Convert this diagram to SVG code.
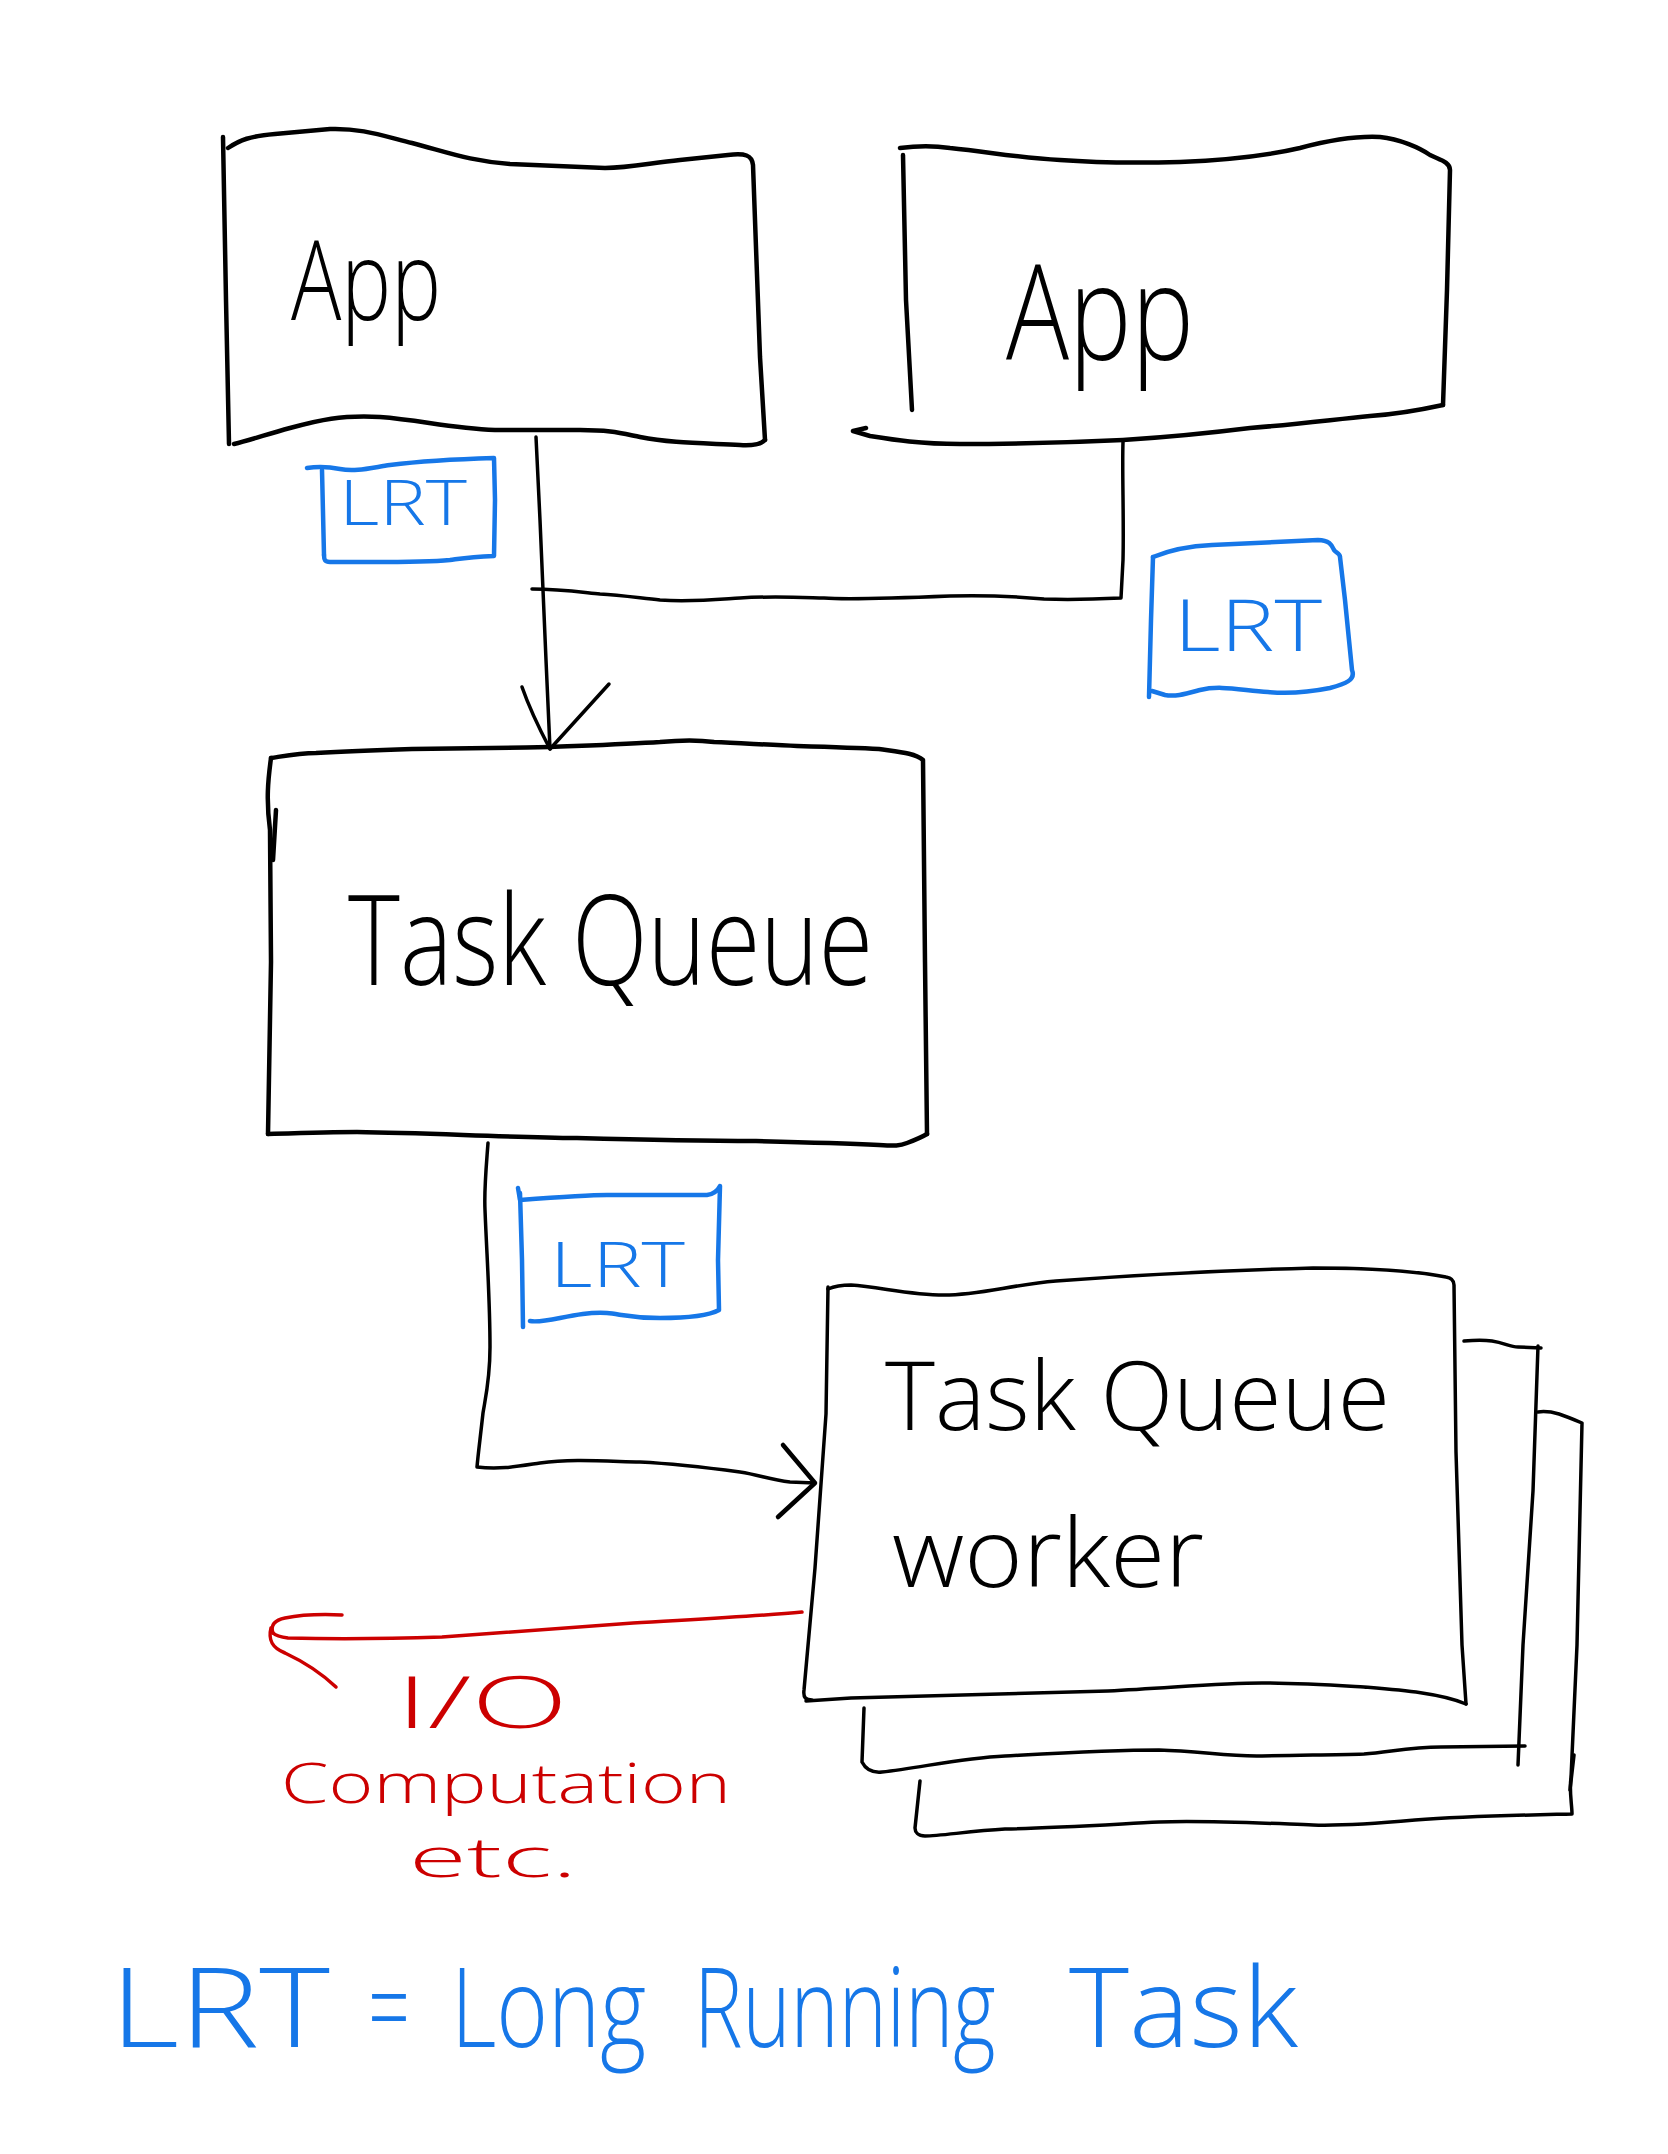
<svg xmlns="http://www.w3.org/2000/svg" width="1668" height="2154" viewBox="0 0 1668 2154">
<style>
  .ink{fill:none;stroke:#000;stroke-width:4.5;stroke-linecap:round;stroke-linejoin:round}
  .thin{fill:none;stroke:#000;stroke-width:3.5;stroke-linecap:round;stroke-linejoin:round}
  .blue{fill:none;stroke:#1677e8;stroke-width:4.5;stroke-linecap:round;stroke-linejoin:round}
  .red{fill:none;stroke:#cc0000;stroke-width:3.5;stroke-linecap:round;stroke-linejoin:round}
  .t{font-family:'Open Sans','Liberation Sans',sans-serif;font-weight:300}
  .tb{fill:#000}
  .tblue{fill:#1677e8}
  .tred{fill:#cc0000}
</style>
<rect width="1668" height="2154" fill="#fff"/>

<g id="connectors">
  <g id="app1-to-queue">
    <path class="thin" d="M536,437 L540,520 L546,660 L550,749"/>
    <path class="thin" d="M522,687 C530,710 540,730 550,749 L609,684"/>
  </g>
  <g id="app2-to-queue">
    <path class="thin" d="M1123,442 C1122,470 1124,520 1123,560 L1121,598 C1100,599 1070,600 1044,599 C1010,596 980,595 950,596 C900,598 850,600 824,598 C790,597 770,596 740,598 C710,600 690,602 660,600 C640,598 620,595 600,594 C580,592 560,589 532,589"/>
  </g>
  <g id="queue-to-worker">
    <path class="thin" d="M488,1143 C486,1170 484,1190 485,1210 C487,1260 490,1300 490,1347 C490,1380 485,1400 483,1413 C480,1440 478,1455 477,1467 C500,1470 520,1466 540,1463 C570,1459 600,1461 640,1462 C680,1464 710,1468 740,1472 C760,1475 770,1480 790,1482 L815,1483"/>
    <path class="ink" d="M783,1445 L815,1483 L778,1517"/>
  </g>
  <g id="worker-io">
    <path class="red" d="M802,1612 C760,1616 700,1619 633,1623 C560,1628 500,1633 442,1637 C380,1639 330,1639 288,1638 C280,1637 275,1635 273,1633"/>
    <path class="red" d="M273,1633 C270,1625 275,1620 285,1618 C300,1615 320,1614 342,1615"/>
    <path class="red" d="M271,1628 C268,1640 272,1648 285,1653 C300,1660 320,1672 336,1687"/>
  </g>
</g>

<g id="node-app1">
  <path class="ink" d="M223,137 L226,300 L229,444"/>
  <path class="ink" d="M228,148 C240,140 250,136 275,134 L330,129 C360,128 380,135 412,143 C450,153 470,161 510,164 L605,168 C630,168 650,163 680,160 L728,155 C745,153 752,155 753,165 L760,357 L765,440"/>
  <path class="ink" d="M234,444 C250,440 265,435 290,428 C320,420 340,415 380,417 C420,420 450,428 495,430 L580,430 C610,430 620,433 640,437 C670,443 700,443 740,445 C755,446 762,443 765,440"/>
  <text class="t tb" x="291" y="320" font-size="110" textLength="150" lengthAdjust="spacingAndGlyphs">App</text>
</g>

<g id="node-app2">
  <path class="ink" d="M903,155 L906,300 L912,410"/>
  <path class="ink" d="M900,148 C915,146 930,145 950,148 C990,152 1020,158 1060,160 C1100,163 1140,163 1180,162 C1230,160 1270,155 1300,148 C1330,140 1360,136 1380,137 C1400,139 1420,148 1430,155 C1440,160 1450,162 1450,170 L1447,290 L1443,405"/>
  <path class="ink" d="M1443,405 C1420,410 1400,414 1370,416 C1330,420 1290,425 1250,428 C1210,433 1170,437 1123,440 C1060,443 1000,444 960,444 C920,444 895,440 870,436 L853,431 L866,428"/>
  <text class="t tb" x="1006" y="360" font-size="132" textLength="188" lengthAdjust="spacingAndGlyphs">App</text>
</g>

<g id="node-lrt1">
  <path class="blue" d="M307,468 C320,466 330,467 340,469 C355,472 370,468 390,465 C430,460 460,459 494,458 L495,500 L494,556 C470,557 465,558 450,560 C420,563 370,562 330,562 C325,562 324,560 324,555"/>
  <path class="blue" d="M322,470 L324,555"/>
  <text class="t tblue" x="339" y="525" font-size="62" textLength="128" lengthAdjust="spacingAndGlyphs">LRT</text>
</g>

<g id="node-lrt2">
  <path class="blue" d="M1153,557 C1170,550 1190,546 1212,545 C1260,543 1290,541 1318,540 C1330,540 1332,546 1334,550 C1336,553 1340,553 1340,557 L1345,600 L1349,640 L1352,670 C1356,680 1345,684 1330,688 C1310,692 1290,694 1268,692 C1240,690 1220,685 1200,690 C1185,694 1175,697 1165,695 L1152,691"/>
  <path class="blue" d="M1153,557 L1151,620 L1149,697"/>
  <text class="t tblue" x="1174" y="651" font-size="72" textLength="148" lengthAdjust="spacingAndGlyphs">LRT</text>
</g>

<g id="node-taskqueue">
  <path class="ink" d="M271,758 C290,755 300,753 316,753 C350,751 380,750 412,749 C480,748 510,748 550,747 C600,745 630,744 660,742 C680,740 700,740 714,742 C740,743 770,745 797,746 C830,747 860,748 879,749 C900,752 915,753 923,760 L925,962 L927,1134"/>
  <path class="ink" d="M271,758 C268,780 266,800 270,830 L271,962 L268,1134"/>
  <path class="ink" d="M276,810 L273,860"/>
  <path class="ink" d="M268,1134 C300,1133 330,1132 357,1132 C430,1133 500,1137 577,1138 C650,1140 700,1141 756,1141 C800,1142 840,1143 879,1145 C895,1146 900,1146 907,1143 C915,1140 922,1137 927,1134"/>
  <text class="t tb" x="348" y="985" font-size="125" textLength="525" lengthAdjust="spacingAndGlyphs">Task Queue</text>
</g>

<g id="node-lrt3">
  <path class="blue" d="M518,1188 L520,1200 C560,1197 590,1195 607,1195 C650,1195 690,1195 707,1195 C715,1194 718,1190 720,1186 L718,1260 L719,1310 C710,1315 690,1318 660,1318 C630,1318 620,1314 607,1313 C590,1312 575,1315 560,1318 C545,1321 535,1322 530,1321"/>
  <path class="blue" d="M520,1193 L522,1260 L523,1327"/>
  <text class="t tblue" x="550" y="1287" font-size="62" textLength="135" lengthAdjust="spacingAndGlyphs">LRT</text>
</g>

<g id="node-worker">
  <g id="worker-stack-3">
    <path class="thin" d="M1538,1412 C1545,1411 1552,1412 1559,1414 C1568,1417 1575,1420 1582,1423 L1577,1645 L1571,1778 C1569,1790 1572,1805 1572,1814 C1530,1815 1470,1816 1415,1820 C1370,1824 1340,1826 1313,1825 C1260,1823 1200,1820 1159,1822 C1100,1825 1050,1828 1005,1829 C970,1831 940,1836 925,1836 C918,1836 915,1832 915,1828 L920,1781"/>
    <path class="thin" d="M1574,1755 L1570,1790"/>
  </g>
  <g id="worker-stack-2">
    <path class="thin" d="M1464,1341 C1475,1340 1485,1340 1492,1341 C1505,1343 1510,1347 1518,1347 L1541,1348"/>
    <path class="thin" d="M1538,1346 L1533,1491 L1523,1645 L1518,1765"/>
    <path class="thin" d="M864,1708 L862,1762 C866,1770 872,1773 882,1772 C920,1768 960,1758 1005,1756 C1060,1753 1110,1750 1159,1750 C1200,1751 1230,1757 1262,1756 C1300,1755 1330,1755 1364,1754 C1390,1752 1410,1747 1441,1747 L1525,1746"/>
  </g>
  <path class="thin" d="M828,1289 C835,1286 845,1285 851,1285 C880,1287 910,1295 944,1295 C980,1295 1010,1285 1056,1281 C1150,1274 1240,1270 1313,1268 C1380,1268 1420,1272 1446,1277 C1452,1278 1454,1281 1454,1285 L1456,1452 L1462,1645 L1466,1704"/>
  <path class="thin" d="M828,1287 L826,1414 L815,1568 L804,1690 C803,1698 806,1700 812,1700"/>
  <path class="thin" d="M806,1701 C820,1700 835,1699 851,1698 C950,1696 1040,1693 1108,1691 C1170,1688 1220,1683 1262,1683 C1300,1683 1330,1685 1364,1687 C1400,1690 1440,1693 1466,1704"/>
  <text class="t tb" x="885" y="1430" font-size="95" textLength="505" lengthAdjust="spacingAndGlyphs">Task Queue</text>
  <text class="t tb" x="892" y="1587" font-size="95" textLength="312" lengthAdjust="spacingAndGlyphs">worker</text>
</g>

<g id="label-io">
  <text class="t tred" x="396" y="1728" font-size="72" textLength="172" lengthAdjust="spacingAndGlyphs">I/O</text>
  <text class="t tred" x="281" y="1803" font-size="56" textLength="450" lengthAdjust="spacingAndGlyphs">Computation</text>
  <text class="t tred" x="409" y="1877" font-size="56" textLength="168" lengthAdjust="spacingAndGlyphs">etc.</text>
</g>

<g id="legend">
  <text class="t tblue" x="110" y="2047" font-size="110" textLength="220" lengthAdjust="spacingAndGlyphs">LRT</text>
  <text class="t tblue" x="368" y="2047" font-size="110" textLength="42" lengthAdjust="spacingAndGlyphs">=</text>
  <text class="t tblue" transform="translate(451,2047) scale(0.8,1)" x="0" y="0" font-size="110" textLength="244" lengthAdjust="spacingAndGlyphs">Long</text>
  <text class="t tblue" transform="translate(694,2047) scale(0.72,1)" x="0" y="0" font-size="110" textLength="419" lengthAdjust="spacingAndGlyphs">Running</text>
  <text class="t tblue" x="1069" y="2047" font-size="110" textLength="229" lengthAdjust="spacingAndGlyphs">Task</text>
</g>
</svg>
